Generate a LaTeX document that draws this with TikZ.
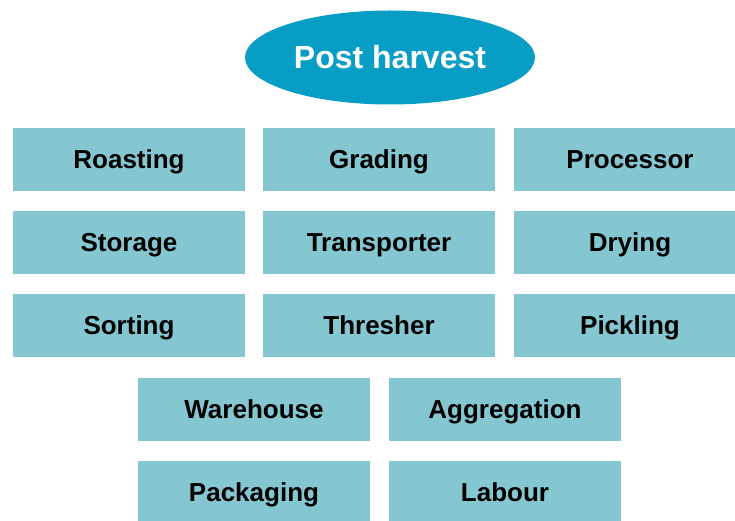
\documentclass[tikz,border=0pt]{standalone}
\usepackage{fontspec}
\setmainfont{Liberation Sans}
\usetikzlibrary{shapes.geometric}

\definecolor{cellblue}{HTML}{84C7D0}
\definecolor{headblue}{HTML}{089DC4}

\tikzset{
    cell/.style={rectangle, fill=cellblue, minimum width=232pt, minimum height=63pt, inner sep=0pt,
        text height=18.6pt, text depth=0pt,
        font=\fontsize{26}{30}\selectfont\bfseries, text=black},
    head/.style={ellipse, fill=headblue, minimum width=290pt, minimum height=94pt, inner sep=0pt,
        text height=22.9pt, text depth=0pt,
        font=\fontsize{32}{36}\selectfont\bfseries, text=white}
}

\begin{document}
\begin{tikzpicture}[x=1pt, y=-1pt]

    \clip (0, 0) rectangle (735, 521);
    \fill[white] (0, 0) rectangle (735, 521);

    \node [head] (post) at (390, 57.5) {Post harvest};

    \node [cell] (roasting) at (129, 159.5) {Roasting};
    \node [cell] (grading) at (379, 159.5) {Grading};
    \node [cell] (processor) at (630, 159.5) {Processor};

    \node [cell] (storage) at (129, 242.5) {Storage};
    \node [cell] (transporter) at (379, 242.5) {Transporter};
    \node [cell] (drying) at (630, 242.5) {Drying};

    \node [cell] (sorting) at (129, 325.5) {Sorting};
    \node [cell] (thresher) at (379, 325.5) {Thresher};
    \node [cell] (pickling) at (630, 325.5) {Pickling};

    \node [cell] (warehouse) at (254, 409.5) {Warehouse};
    \node [cell] (aggregation) at (505, 409.5) {Aggregation};

    \node [cell] (packaging) at (254, 492.5) {Packaging};
    \node [cell] (labour) at (505, 492.5) {Labour};

\end{tikzpicture}
\end{document}
